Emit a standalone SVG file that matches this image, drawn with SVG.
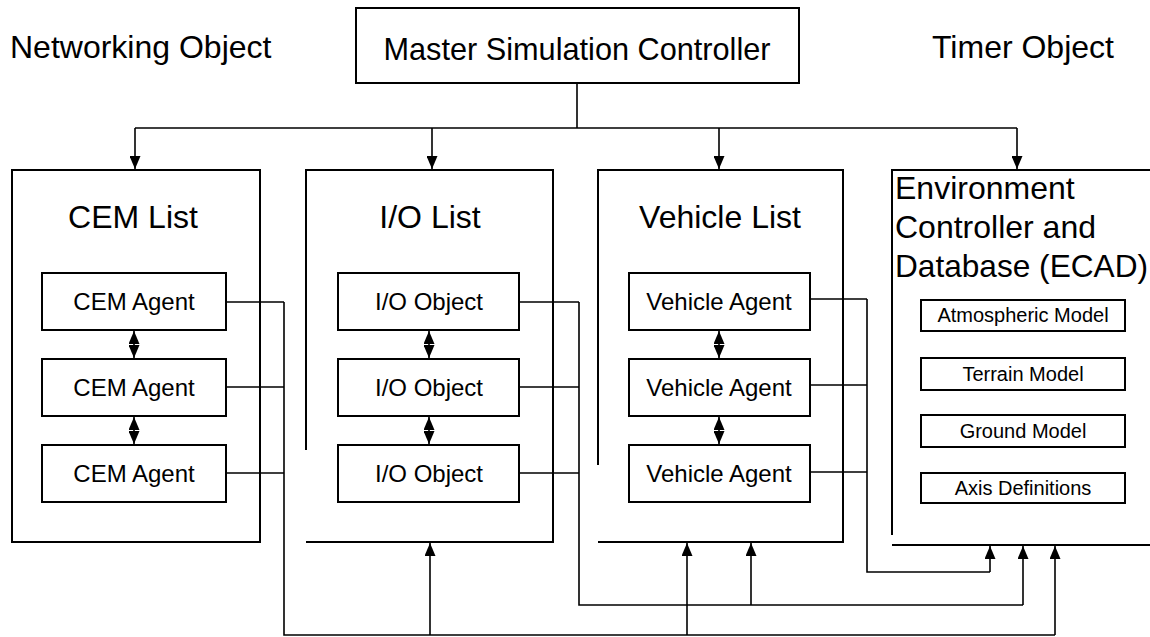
<svg xmlns="http://www.w3.org/2000/svg" width="1150" height="637" viewBox="0 0 1150 637">
<style>
text{font-family:"Liberation Sans",Arial,sans-serif;fill:#000}
.big{font-size:32px}
.mid{font-size:24px;text-anchor:middle}
.sm{font-size:20px;text-anchor:middle}
.ctr{text-anchor:middle}
.box{fill:#fff;stroke:#000;stroke-width:2}
.frame{fill:none;stroke:#000;stroke-width:2}
.ln{fill:none;stroke:#000;stroke-width:1.6}
.arr{marker-end:url(#ah)}
.dbl{marker-end:url(#ah2);marker-start:url(#ah2)}
</style>
<defs>
<marker id="ah" markerUnits="userSpaceOnUse" viewBox="0 0 13 11" markerWidth="13" markerHeight="11" refX="13" refY="5.5" orient="auto"><path d="M0,0 L13,5.5 L0,11 z" fill="#000"/></marker>
<marker id="ah2" markerUnits="userSpaceOnUse" viewBox="0 0 13 11" markerWidth="13" markerHeight="11" refX="13" refY="5.5" orient="auto-start-reverse"><path d="M0,0 L13,5.5 L0,11 z" fill="#000"/></marker>
</defs>
<rect width="1150" height="637" fill="#fff"/>

<g id="networking-object"><text class="big" x="10" y="58">Networking Object</text></g>
<g id="timer-object"><text class="big" x="932" y="58">Timer Object</text></g>
<g id="master"><rect class="box" x="356" y="8" width="443" height="75"/><text class="big ctr" x="577" y="60" textLength="387" lengthAdjust="spacingAndGlyphs">Master Simulation Controller</text></g>

<g id="cem-list"><rect class="frame" x="12" y="170" width="248" height="372"/><text class="big ctr" x="133" y="228">CEM List</text></g>
<g id="cem-agent-1"><rect class="box" x="42" y="273" width="184" height="57"/><text class="mid" x="134" y="310">CEM Agent</text></g>
<g id="cem-agent-2"><rect class="box" x="42" y="359" width="184" height="57"/><text class="mid" x="134" y="396">CEM Agent</text></g>
<g id="cem-agent-3"><rect class="box" x="42" y="445" width="184" height="57"/><text class="mid" x="134" y="482">CEM Agent</text></g>

<g id="io-list"><path class="frame" d="M306,450 V170 H553 V542 H306"/><text class="big ctr" x="430" y="228">I/O List</text></g>
<g id="io-object-1"><rect class="box" x="338" y="273" width="181" height="57"/><text class="mid" x="429" y="310">I/O Object</text></g>
<g id="io-object-2"><rect class="box" x="338" y="359" width="181" height="57"/><text class="mid" x="429" y="396">I/O Object</text></g>
<g id="io-object-3"><rect class="box" x="338" y="445" width="181" height="57"/><text class="mid" x="429" y="482">I/O Object</text></g>

<g id="vehicle-list"><path class="frame" d="M598,465 V170 H843 V542 H598"/><text class="big ctr" x="720" y="228">Vehicle List</text></g>
<g id="vehicle-agent-1"><rect class="box" x="629" y="273" width="181" height="57"/><text class="mid" x="719" y="310">Vehicle Agent</text></g>
<g id="vehicle-agent-2"><rect class="box" x="629" y="359" width="181" height="57"/><text class="mid" x="719" y="396">Vehicle Agent</text></g>
<g id="vehicle-agent-3"><rect class="box" x="629" y="445" width="181" height="57"/><text class="mid" x="719" y="482">Vehicle Agent</text></g>

<g id="ecad"><path class="frame" d="M892,535 V170 H1152 M892,545 H1152"/>
<text class="big" x="895" y="199">Environment</text>
<text class="big" x="895" y="238">Controller and</text>
<text class="big" x="895" y="277" textLength="253" lengthAdjust="spacingAndGlyphs">Database (ECAD)</text></g>
<g id="atmospheric-model"><rect class="box" x="921" y="300" width="204" height="31"/><text class="sm" x="1023" y="322">Atmospheric Model</text></g>
<g id="terrain-model"><rect class="box" x="921" y="358" width="204" height="32"/><text class="sm" x="1023" y="381">Terrain Model</text></g>
<g id="ground-model"><rect class="box" x="921" y="415" width="204" height="32"/><text class="sm" x="1023" y="438">Ground Model</text></g>
<g id="axis-definitions"><rect class="box" x="921" y="473" width="204" height="30"/><text class="sm" x="1023" y="495">Axis Definitions</text></g>

<g id="connectors">
<path class="ln" d="M577,83 V128 M135,128 H1017"/>
<path class="ln arr" d="M135,128 V169"/>
<path class="ln arr" d="M432,128 V169"/>
<path class="ln arr" d="M719,128 V169"/>
<path class="ln arr" d="M1017,128 V169"/>

<path class="ln dbl" d="M134,331 V358"/>
<path class="ln dbl" d="M134,417 V444"/>
<path class="ln dbl" d="M429,331 V358"/>
<path class="ln dbl" d="M429,417 V444"/>
<path class="ln dbl" d="M719,331 V358"/>
<path class="ln dbl" d="M719,417 V444"/>

<path class="ln" d="M226,302 H284 M226,387 H284 M226,473 H284 M284,302 V635 H1055"/>
<path class="ln arr" d="M1055,635 V546"/>
<path class="ln arr" d="M430,635 V543"/>
<path class="ln arr" d="M687,635 V543"/>

<path class="ln" d="M519,302 H579 M519,387 H579 M519,473 H579 M579,302 V605 H1023"/>
<path class="ln arr" d="M1023,605 V546"/>
<path class="ln arr" d="M751,605 V543"/>

<path class="ln" d="M810,299 H867 M810,385 H867 M810,472 H867 M867,299 V572 H990"/>
<path class="ln arr" d="M990,572 V546"/>
</g>
</svg>
